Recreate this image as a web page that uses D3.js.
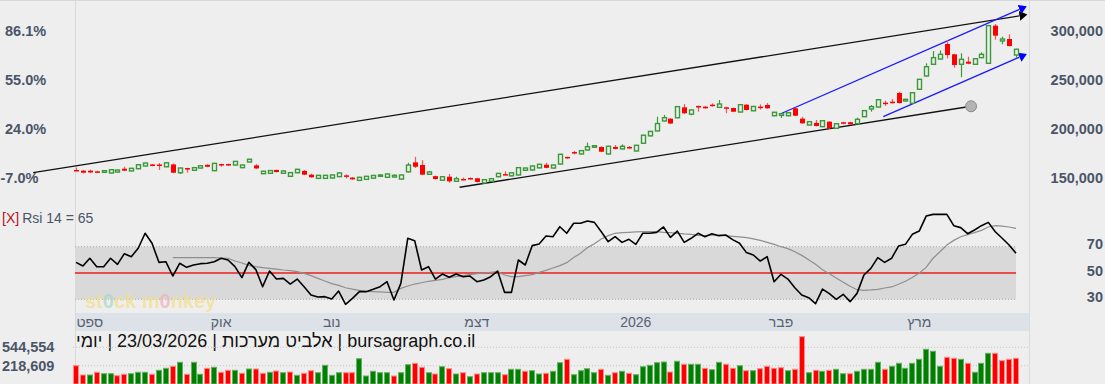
<!DOCTYPE html>
<html>
<head>
<meta charset="utf-8">
<script src="https://cdn.jsdelivr.net/npm/d3@7"></script>
<style>
  body { margin: 0; background: #eeeeee; }
  svg { display: block; font-family: "Liberation Sans", Arial, sans-serif; }
</style>
</head>
<body>
<svg id="chart" width="1105" height="384"></svg>
<script>
// daily candles, prices in thousands
const open = [
  157.9,157.2,157.2,156.5,155.5,154.8,155.8,159.2,156.9,159.2,
  162.0,163.6,163.5,161.2,163.6,155.1,159.9,157.6,159.9,163.2,
  157.2,164.0,164.0,163.0,160.3,166.1,162.6,154.1,154.5,157.9,
  154.5,151.4,155.1,156.9,153.1,149.3,149.3,149.7,151.1,152.4,
  150.1,147.3,148.3,149.5,151.4,150.4,150.7,148.6,156.0,165.7,
  163.0,153.5,151.6,147.4,151.0,146.3,148.7,149.7,149.4,144.6,
  146.3,151.0,153.7,151.9,152.8,157.6,157.9,160.1,163.3,159.9,
  164.0,171.3,176.3,174.3,178.4,181.2,181.5,174.3,181.5,179.5,
  181.5,177.4,185.3,192.9,197.9,208.1,210.5,211.4,222.1,215.1,
  223.5,222.8,224.8,222.1,222.1,221.4,217.3,224.8,218.6,222.8,
  224.5,213.5,213.8,213.5,221.1,210.5,204.0,206.1,202.3,207.4,
  200.6,206.8,206.8,205.3,212.5,220.4,222.4,226.9,227.9,236.8,
  228.6,226.2,240.6,254.2,266.2,271.6,287.0,276.4,266.2,268.9,
  266.2,273.0,267.2,305.8,290.1,292.1,275.7
];
const high = [
  160.4,157.8,158.2,157.0,157.8,158.7,158.2,161.3,160.0,163.8,
  165.5,164.0,165.0,165.8,164.6,160.4,160.2,160.8,162.7,163.6,
  165.2,164.3,164.3,167.2,163.5,169.4,163.9,157.0,157.8,158.3,
  157.6,155.7,159.1,157.9,154.1,152.9,152.9,153.3,155.4,153.4,
  150.6,150.9,151.9,152.8,153.3,154.3,153.4,153.3,165.3,171.4,
  168.0,157.0,152.1,151.5,153.8,151.0,150.1,150.2,149.9,148.5,
  149.5,154.9,156.5,155.5,160.8,160.4,162.5,164.2,165.3,163.5,
  174.5,171.5,177.3,178.2,185.9,183.3,182.0,182.7,183.5,184.2,
  182.5,183.7,194.0,197.9,212.5,214.3,211.0,223.3,225.5,219.9,
  224.0,223.3,226.2,229.6,222.6,221.9,225.3,225.3,223.5,225.1,
  226.5,217.5,216.2,217.1,221.6,212.5,207.9,209.1,208.9,207.9,
  205.8,207.3,207.3,211.5,219.2,224.5,230.4,228.9,230.6,238.1,
  230.8,237.6,251.3,267.2,279.8,280.5,290.8,277.0,277.5,274.0,
  272.4,278.5,306.3,307.5,294.5,296.9,282.1
];
const low = [
  156.8,154.5,154.8,154.8,155.0,154.3,155.3,156.8,156.5,158.7,
  161.5,161.6,157.9,160.8,154.6,153.7,155.1,157.1,159.4,160.8,
  156.8,161.3,162.2,162.5,159.8,165.6,159.0,153.7,154.0,155.4,
  154.0,150.9,154.6,152.6,150.0,148.8,148.8,149.2,150.6,149.3,
  147.8,146.8,147.8,149.0,150.9,149.9,150.2,148.1,155.5,160.0,
  152.6,153.0,148.1,146.9,144.9,145.8,147.4,148.2,145.2,144.1,
  145.8,150.5,152.6,151.4,152.3,157.1,157.4,159.6,159.6,159.4,
  163.5,169.5,173.9,173.8,177.9,180.7,176.1,173.8,179.0,179.0,
  179.6,176.9,184.8,192.4,197.4,207.6,205.0,210.9,215.5,213.9,
  217.6,220.6,223.0,221.6,216.0,217.1,216.8,218.9,218.1,219.8,
  220.6,213.0,211.2,213.0,213.0,205.2,203.5,202.5,201.8,200.1,
  200.1,204.8,204.2,204.8,212.0,217.6,221.9,223.5,226.0,226.0,
  228.1,225.7,240.1,253.7,265.7,271.1,272.3,262.7,252.9,266.3,
  265.7,272.5,266.7,291.4,286.7,284.4,272.3
];
const close = [
  157.2,155.1,155.4,155.1,157.2,158.2,157.9,157.2,159.6,163.3,
  165.0,162.0,162.5,165.3,155.1,159.9,158.5,160.3,162.2,161.2,
  164.7,162.8,162.7,166.7,163.0,168.9,159.5,156.6,157.3,155.8,
  156.9,155.2,158.6,153.1,150.4,152.4,152.4,152.8,154.9,151.4,
  148.3,150.4,151.4,152.3,152.8,153.8,152.4,152.8,163.0,161.2,
  153.1,155.9,148.6,151.0,146.3,149.0,147.9,148.7,145.7,148.0,
  149.0,154.4,153.0,155.0,160.3,159.9,162.0,163.7,160.1,163.0,
  174.0,170.7,175.0,177.7,181.8,182.8,176.6,182.2,179.5,182.2,
  180.1,183.2,193.5,197.4,205.5,211.5,205.5,222.8,216.0,219.4,
  222.1,221.1,223.5,225.5,221.4,217.6,224.8,219.4,223.0,222.1,
  221.1,217.0,215.5,216.6,213.5,205.7,207.4,203.0,208.4,200.6,
  205.3,205.3,204.7,209.8,218.7,222.8,229.9,225.5,226.5,226.5,
  230.3,237.1,250.8,263.7,273.0,276.4,275.7,265.5,271.3,266.8,
  271.9,276.4,305.8,295.5,292.1,284.9,281.6
];
// volume in thousands of shares
const volume = [
  218.6,53.9,53.9,101.7,76.9,76.9,41.4,66.3,76.9,101.7,
  101.7,66.3,137.1,172.5,208.0,278.8,66.3,278.8,66.3,172.5,
  190.3,101.7,137.1,137.1,84.0,160.1,160.1,84.0,101.7,124.7,
  94.6,107.0,48.5,84.0,130.0,94.6,225.7,48.5,94.6,94.6,
  94.6,342.6,36.1,119.4,94.6,94.6,36.1,94.6,236.3,261.1,
  190.3,94.6,71.6,200.9,165.5,71.6,94.6,23.7,71.6,94.6,
  94.6,94.6,59.2,154.8,154.8,119.4,130.0,71.6,84.0,119.4,
  271.7,332.0,59.2,130.0,165.5,94.6,154.8,48.5,94.6,119.4,
  84.0,59.2,200.9,225.7,271.7,284.1,107.0,296.5,243.4,243.4,
  243.4,172.5,147.7,278.8,243.4,172.5,218.6,130.0,130.0,165.5,
  208.0,172.5,183.2,130.0,154.8,732.3,94.6,137.1,119.4,137.1,
  154.8,76.9,76.9,119.4,154.8,154.8,278.8,154.8,208.0,261.1,
  172.5,261.1,332.0,509.1,473.7,208.0,367.4,349.7,332.0,261.1,
  101.7,261.1,438.3,438.3,307.2,332.0,349.7
];
const rsi = [
  58.1,55.3,61.2,54.8,54.8,61.2,56.6,64.7,62.4,68.8,
  80.2,72.6,58.1,58.6,47.7,57.4,54.3,56.1,57.1,57.4,
  58.6,61.2,59.9,54.8,46.5,58.1,52.8,39.6,51.5,45.4,
  45.9,41.6,45.4,39.6,33.3,31.7,32.0,30.2,36.3,26.2,
  30.7,35.8,35.8,37.6,39.6,43.4,29.5,42.1,76.4,74.6,
  52.3,54.8,45.4,49.2,46.7,49.2,47.2,47.7,43.4,44.7,
  47.2,51.5,35.3,35.3,59.9,56.1,70.8,72.1,78.1,77.6,
  85.2,80.2,87.8,87.8,89.5,88.5,81.4,73.8,77.6,73.3,
  75.6,71.8,80.2,80.2,80.9,85.0,77.1,81.9,73.3,76.4,
  80.2,77.6,79.9,78.4,78.9,75.4,72.6,65.5,63.7,59.1,
  62.4,43.4,49.0,45.4,38.8,33.3,31.2,26.7,37.8,34.3,
  30.0,33.8,28.2,34.5,48.5,53.5,61.7,58.1,61.2,70.5,
  71.8,79.4,81.9,93.3,94.6,94.6,94.6,86.0,84.5,79.9,
  82.7,86.0,88.5,81.4,76.4,71.3,65.0
];
const rsiAvg = [
  null,null,null,null,null,null,null,null,null,null,null,null,null,null,
  61.7,61.7,61.7,61.7,61.7,61.7,61.7,61.4,61.2,59.1,
  57.6,55.8,54.8,54.1,53.5,53.0,52.3,51.8,51.0,49.7,
  48.0,45.9,43.9,41.9,40.6,38.8,37.8,36.8,36.1,35.8,
  35.6,35.3,35.3,38.3,40.1,41.6,42.6,43.7,44.4,45.2,
  46.5,47.2,48.0,48.7,49.5,50.0,50.5,51.0,48.5,47.2,
  47.2,48.0,48.7,50.5,52.0,53.8,55.6,57.9,61.7,65.0,
  69.3,72.3,75.9,78.4,80.2,80.7,80.9,81.2,81.4,81.4,
  81.4,80.9,80.7,80.2,79.7,79.4,78.6,78.4,78.9,78.6,
  78.4,77.9,77.4,76.9,75.9,74.8,73.3,71.8,70.0,68.5,
  66.2,63.4,60.1,56.6,52.5,49.5,46.2,42.9,39.9,37.3,
  36.8,37.1,37.6,38.6,39.4,41.4,43.7,46.5,50.0,54.3,
  61.2,66.2,71.3,74.8,77.6,79.2,80.7,82.4,85.0,86.0,
  85.7,85.0,84.0
];

const monthIdx = [2, 21, 37, 58, 81, 102, 122];
const monthLabels = ["ספט", "אוק", "נוב", "דצמ", "2026", "פבר", "מרץ"];
const priceTicks = [300, 250, 200, 150];
const pctLabels = ["86.1%", "55.0%", "24.0%", "-7.0%"];
const rsiTicks = [70, 50, 30];
const volTicks = [544554, 218609];
const titleParts = ["יומי", "|", "23/03/2026", "|", "אלביט מערכות", "|", "bursagraph.co.il"];

// drawn trend lines: [start index, start price, end index, end price]
const blackLine = [-6.2, 155.1, 136.5, 315.8];
const blueUpper = [101.8, 215.0, 136.5, 322.4];
const blueLower = [116.8, 212.5, 136.5, 273.5];
const supportLine = [55.5, 140.2, 129.5, 223.2];

const svg = d3.select("#chart");
const N = close.length;
const labelColor = "#4a5568";

const x = d3.scaleLinear().domain([0, N - 1]).range([76, 1016]);
const y = d3.scaleLinear().domain([150, 300]).range([177.7, 31.3]);
const yR = d3.scaleLinear().domain([30, 70]).range([299.3, 246.7]);
const yV = d3.scaleLinear().domain([218609, 544554]).range([365.7, 347.3]);

// frame
svg.append("line").attr("x1", 0).attr("x2", 1105).attr("y1", 0.5).attr("y2", 0.5).attr("stroke", "#d6d6d6");
[75.5, 1029.5].forEach(v => {
  svg.append("line").attr("x1", v).attr("x2", v).attr("y1", 0).attr("y2", 384).attr("stroke", "#dadada");
});

// date band
svg.append("rect").attr("x", 76).attr("y", 313).attr("width", 953).attr("height", 18).attr("fill", "#dde2e9");
svg.selectAll(".month").data(monthIdx).enter().append("text")
  .attr("x", d => x(d)).attr("y", 327)
  .attr("text-anchor", "middle").attr("font-size", 14).attr("fill", "#58616e")
  .text((d, i) => monthLabels[i]);

// price axis labels
svg.selectAll(".ptick").data(priceTicks).enter().append("text")
  .attr("x", 1103).attr("y", d => y(d)).attr("dy", "0.35em")
  .attr("text-anchor", "end").attr("font-size", 14.5).attr("font-weight", "bold").attr("fill", labelColor)
  .text(d => d3.format(",")(d * 1000));
svg.selectAll(".pct").data(priceTicks).enter().append("text")
  .attr("x", (d, i) => pctLabels[i].startsWith("-") ? 0.5 : 5)
  .attr("y", d => y(d)).attr("dy", "0.35em")
  .attr("font-size", 14.5).attr("font-weight", "bold").attr("fill", labelColor)
  .text((d, i) => pctLabels[i]);

// trend lines
const defs = svg.append("defs");
function arrowMarker(id, color) {
  defs.append("marker").attr("id", id)
    .attr("markerUnits", "userSpaceOnUse")
    .attr("markerWidth", 9).attr("markerHeight", 10)
    .attr("refX", 0).attr("refY", 5).attr("orient", "auto")
    .append("path").attr("d", "M0,0 L8,5 L0,10 Z").attr("fill", color);
}
arrowMarker("arrBlack", "#000");
arrowMarker("arrBlue", "#0000ff");

function trend(l, color, marker) {
  const ln = svg.append("line")
    .attr("x1", x(l[0])).attr("y1", y(l[1]))
    .attr("x2", x(l[2])).attr("y2", y(l[3]))
    .attr("stroke", color).attr("stroke-width", 1.3);
  if (marker) ln.attr("marker-end", "url(#" + marker + ")");
}
trend(blackLine, "#111", "arrBlack");
trend(blueUpper, "#1a1aff", "arrBlue");
trend(blueLower, "#1a1aff", "arrBlue");
trend(supportLine, "#111", null);
svg.append("circle").attr("cx", x(supportLine[2])).attr("cy", y(supportLine[3])).attr("r", 5.5)
  .attr("fill", "#b4b4b4").attr("stroke", "#8c8c8c");

// candles
const candles = svg.append("g");
d3.range(N).forEach(i => {
  const up = close[i] >= open[i];
  const cx = Math.round(x(i));
  const g = candles.append("g");
  g.append("line")
    .attr("x1", cx + 0.5).attr("x2", cx + 0.5)
    .attr("y1", y(high[i])).attr("y2", y(low[i]))
    .attr("stroke", up ? "#3a9a3a" : "#f25a5a").attr("stroke-width", 1.2);
  const top = y(Math.max(open[i], close[i]));
  const bot = y(Math.min(open[i], close[i]));
  if (up) {
    g.append("rect")
      .attr("x", cx - 1.5).attr("y", top)
      .attr("width", 4).attr("height", Math.max(1, bot - top))
      .attr("fill", "#eeeeee").attr("stroke", "#3a9a3a").attr("stroke-width", 1.4);
  } else {
    g.append("rect")
      .attr("x", cx - 2).attr("y", top)
      .attr("width", 5).attr("height", Math.max(1.5, bot - top))
      .attr("fill", "#ff0000");
  }
});

// RSI panel
const rx0 = x(0) - 1, rx1 = x(N - 1);
svg.append("rect").attr("x", rx0).attr("y", yR(70)).attr("width", rx1 - rx0).attr("height", yR(30) - yR(70))
  .attr("fill", "#d9d9d9");
[70, 30].forEach(v => {
  svg.append("line").attr("x1", rx0).attr("x2", rx1).attr("y1", yR(v)).attr("y2", yR(v))
    .attr("stroke", "#aaaaaa").attr("stroke-dasharray", "1,2");
});
svg.append("line").attr("x1", rx0).attr("x2", rx1).attr("y1", yR(50)).attr("y2", yR(50))
  .attr("stroke", "#ee1c1c").attr("stroke-width", 1.5);

// watermark
const wm = svg.append("text").attr("x", 85).attr("y", 308)
  .attr("font-size", 20).attr("font-weight", "bold").attr("fill", "#f3df8a").attr("opacity", 0.7);
wm.append("tspan").text("st");
wm.append("tspan").attr("fill", "#a6d8c4").text("0");
wm.append("tspan").text("ck m");
wm.append("tspan").attr("fill", "#f1b0b8").text("0");
wm.append("tspan").text("nkey");

svg.append("path").datum(rsiAvg)
  .attr("fill", "none").attr("stroke", "#8f8f8f").attr("stroke-width", 1.2)
  .attr("d", d3.line().defined(d => d != null).x((d, i) => x(i)).y(d => yR(d)));
svg.append("path").datum(rsi)
  .attr("fill", "none").attr("stroke", "#000").attr("stroke-width", 1.6).attr("stroke-linejoin", "round")
  .attr("d", d3.line().x((d, i) => x(i)).y(d => yR(d)));

svg.selectAll(".rtick").data(rsiTicks).enter().append("text")
  .attr("x", 1103).attr("y", d => yR(d) - 2.5).attr("dy", "0.35em")
  .attr("text-anchor", "end").attr("font-size", 14.5).attr("font-weight", "bold").attr("fill", labelColor)
  .text(d => d);

const rsiLabel = svg.append("text").attr("x", 2).attr("y", 223).attr("font-size", 14);
rsiLabel.append("tspan").attr("fill", "#b01818").text("[X]");
rsiLabel.append("tspan").attr("fill", labelColor).attr("dx", 3).text("Rsi 14 = " + Math.round(rsi[N - 1]));

// title
let tx = 76;
titleParts.forEach(p => {
  const t = svg.append("text").attr("x", tx).attr("y", 347)
    .attr("font-size", 18).attr("fill", "#111").text(p);
  tx += t.node().getComputedTextLength() + 5;
});

// volume panel
svg.selectAll(".vgrid").data(volTicks).enter().append("line")
  .attr("x1", 73).attr("x2", 1029).attr("y1", d => yV(d)).attr("y2", d => yV(d))
  .attr("stroke", "#c4c4c4").attr("stroke-dasharray", "1,2");
svg.selectAll(".vtick").data(volTicks).enter().append("text")
  .attr("x", 2).attr("y", d => yV(d)).attr("dy", "0.35em")
  .attr("font-size", 14.5).attr("font-weight", "bold").attr("fill", labelColor)
  .text(d => d3.format(",")(d));

svg.selectAll(".vol").data(volume).enter().append("rect")
  .attr("x", (d, i) => Math.round(x(i)) - 2.5)
  .attr("y", d => yV(d * 1000))
  .attr("width", 5)
  .attr("height", d => 384 - yV(d * 1000))
  .attr("fill", (d, i) => {
    const up = i === 0 ? close[0] >= open[0] : close[i] >= close[i - 1];
    return up ? "#008000" : "#ff0000";
  })
  .attr("stroke", (d, i) => {
    const up = i === 0 ? close[0] >= open[0] : close[i] >= close[i - 1];
    return up ? "#66b066" : "#ff8a8a";
  })
  .attr("stroke-width", 1);
</script>
</body>
</html>
